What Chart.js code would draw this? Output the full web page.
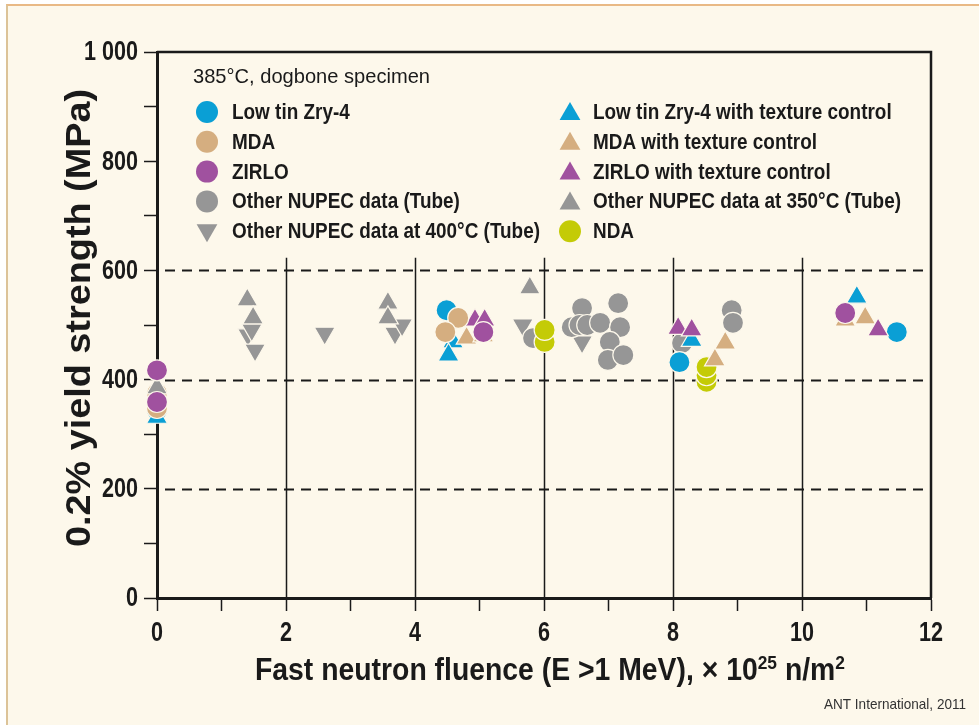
<!DOCTYPE html>
<html>
<head>
<meta charset="utf-8">
<title>Yield strength vs fast neutron fluence</title>
<script src="https://cdn.jsdelivr.net/npm/chart.js@4.4.1/dist/chart.umd.min.js"></script>
<style>
    html, body { margin: 0; padding: 0; background: #ffffff; }
    #frame {
        position: absolute; left: 6px; top: 4px; right: 0; bottom: 0;
        background: #fdf8eb;
        border-top: 2px solid #e9b985;
        border-left: 2px solid #dcc398;
    }
    #chart { position: absolute; left: 0; top: 0; }
</style>
</head>
<body>
<div id="frame"></div>
<canvas id="chart" width="979" height="725"></canvas>
<script>
/**
 * 0.2% yield strength of irradiated Zr alloys vs fast neutron fluence
 * Values (x in 10^25 n/m2, y in MPa)
 */

const xTicks = [0, 1, 2, 3, 4, 5, 6, 7, 8, 9, 10, 11, 12];
const xTickLabels = { 0: '0', 2: '2', 4: '4', 6: '6', 8: '8', 10: '10', 12: '12' };
const yTickLabels = { 0: '0', 200: '200', 400: '400', 600: '600', 800: '800', 1000: '1 000' };
const dashedLevels = [200, 400, 600];
const solidFluences = [2, 4, 6, 8, 10];

// Low tin Zry-4 (circle)
const lowTinX = [0, 4.49, 8.10, 11.47];
const lowTinY = [344, 527, 432, 487];
// MDA (circle)
const mdaX = [0, 0, 4.67, 4.47];
const mdaY = [348, 375, 513, 487];
// ZIRLO (circle)
const zirloX = [0, 0, 5.06, 10.67];
const zirloY = [359, 417, 487, 522];
// Other NUPEC data, tube (circle)
const nupecX = [5.83, 6.59, 6.43, 6.55, 6.67, 6.87, 7.15, 7.18, 7.02, 6.99, 7.23, 8.14, 8.91, 8.93];
const nupecY = [476, 531, 496, 500, 500, 504, 540, 496, 469, 436, 445, 467, 527, 504];
// Other NUPEC data at 400 C, tube (down triangle)
const nupec400X = [1.41, 1.47, 1.52, 2.60, 3.69, 3.80, 5.67, 6.59];
const nupec400Y = [482, 491, 454, 485, 485, 500, 500, 469];
// Low tin Zry-4 with texture control (triangle)
const lowTinTexX = [0, 4.59, 4.52, 8.29, 10.85];
const lowTinTexY = [331, 469, 445, 472, 551];
// MDA with texture control (triangle)
const mdaTexX = [4.80, 5.06, 8.81, 8.65, 10.67, 10.98];
const mdaTexY = [476, 480, 467, 436, 509, 513];
// ZIRLO with texture control (triangle)
const zirloTexX = [4.93, 5.08, 8.08, 8.29, 11.18];
const zirloTexY = [509, 509, 494, 491, 491];
// Other NUPEC data at 350 C, tube (triangle)
const nupec350X = [0, 1.40, 1.49, 3.58, 3.58, 5.78];
const nupec350Y = [385, 546, 513, 540, 513, 568];
// NDA (circle)
const ndaX = [6.01, 6.01, 8.52, 8.52, 8.52];
const ndaY = [469, 491, 396, 408, 423];

const colors = {
    cyan: '#0a9fd5',
    tan: '#d5ae80',
    purple: '#a0519f',
    gray: '#969696',
    nda: '#c4cb06',
    ink: '#1a1a1a',
    paper: '#fdf8eb'
};

// the original uses a condensed Helvetica; Liberation Sans is squeezed horizontally
const FONT = "'Liberation Sans', Arial, sans-serif";

function toPoints(xs, ys) {
    return xs.map(function(x, i) { return { x: x, y: ys[i] }; });
}

/**
 * Build one scatter dataset; lower `order` ends up drawn on top
 */
function makeSet(label, xs, ys, color, style, order, rotation) {
    return {
        label: label,
        data: toPoints(xs, ys),
        order: order,
        clip: false,
        pointStyle: style,
        rotation: rotation || 0,
        pointRadius: style === 'circle' ? 10.5 : 12,
        pointHoverRadius: style === 'circle' ? 10.5 : 12,
        backgroundColor: color,
        borderColor: colors.paper,
        borderWidth: 1.2
    };
}

const datasets = [
    makeSet('Low tin Zry-4', lowTinX, lowTinY, colors.cyan, 'circle', 6),
    makeSet('MDA', mdaX, mdaY, colors.tan, 'circle', 2),
    makeSet('ZIRLO', zirloX, zirloY, colors.purple, 'circle', 0),
    makeSet('Other NUPEC data (Tube)', nupecX, nupecY, colors.gray, 'circle', 8),
    makeSet('Other NUPEC data at 400°C (Tube)', nupec400X, nupec400Y, colors.gray, 'triangle', 9, 180),
    makeSet('Low tin Zry-4 with texture control', lowTinTexX, lowTinTexY, colors.cyan, 'triangle', 5),
    makeSet('MDA with texture control', mdaTexX, mdaTexY, colors.tan, 'triangle', 4),
    makeSet('ZIRLO with texture control', zirloTexX, zirloTexY, colors.purple, 'triangle', 3),
    makeSet('Other NUPEC data at 350°C (Tube)', nupec350X, nupec350Y, colors.gray, 'triangle', 1),
    makeSet('NDA', ndaX, ndaY, colors.nda, 'circle', 7)
];

/**
 * Draw text squeezed horizontally by sx
 */
function squeezedText(ctx, text, x, y, align, sx) {
    ctx.save();
    ctx.translate(x, y);
    ctx.scale(sx, 1);
    ctx.textAlign = align;
    ctx.fillText(text, 0, 0);
    ctx.restore();
}

/**
 * Draw a run of segments (some superscript) centred on x, fitted to a width
 */
function drawRun(ctx, segments, cx, cy, size, weight, targetWidth) {
    const base = weight + ' ' + size + 'px ' + FONT;
    const sup = weight + ' ' + Math.round(size * 0.62) + 'px ' + FONT;
    let total = 0;
    segments.forEach(function(s) {
        ctx.font = s.sup ? sup : base;
        s.w = ctx.measureText(s.t).width;
        total += s.w;
    });
    const sx = targetWidth / total;
    ctx.save();
    ctx.translate(cx - targetWidth / 2, cy);
    ctx.scale(sx, 1);
    ctx.textAlign = 'left';
    let pos = 0;
    segments.forEach(function(s) {
        ctx.font = s.sup ? sup : base;
        ctx.fillText(s.t, pos, s.sup ? -size * 0.36 : 0);
        pos += s.w;
    });
    ctx.restore();
}

/**
 * Grid: dashed horizontal levels, solid verticals below the legend, frame
 */
const gridPlugin = {
    id: 'gridLines',
    beforeDatasetsDraw: function(chart) {
        const ctx = chart.ctx;
        const xs = chart.scales.x;
        const ys = chart.scales.y;
        const area = chart.chartArea;
        ctx.save();
        ctx.strokeStyle = colors.ink;

        // dashed levels
        ctx.lineWidth = 2;
        ctx.setLineDash([10, 7]);
        dashedLevels.forEach(function(v) {
            const y = Math.round(ys.getPixelForValue(v)) + 0.5;
            ctx.beginPath();
            ctx.moveTo(area.left + 8, y);
            ctx.lineTo(area.right, y);
            ctx.stroke();
        });
        ctx.setLineDash([]);

        // vertical lines stop under the legend
        ctx.lineWidth = 1.5;
        solidFluences.forEach(function(v) {
            const x = Math.round(xs.getPixelForValue(v)) + 0.5;
            ctx.beginPath();
            ctx.moveTo(x, ys.getPixelForValue(623));
            ctx.lineTo(x, area.bottom);
            ctx.stroke();
        });

        // top and right frame
        ctx.lineWidth = 2.5;
        ctx.beginPath();
        ctx.moveTo(area.left, area.top);
        ctx.lineTo(area.right, area.top);
        ctx.lineTo(area.right, area.bottom);
        ctx.stroke();
        ctx.restore();
    }
};

/**
 * Tick labels and axis titles in condensed lettering
 */
const axisTextPlugin = {
    id: 'axisText',
    afterDraw: function(chart) {
        const ctx = chart.ctx;
        const xs = chart.scales.x;
        const ys = chart.scales.y;
        const area = chart.chartArea;
        ctx.save();
        ctx.fillStyle = colors.ink;
        ctx.textBaseline = 'middle';
        ctx.font = 'bold 27px ' + FONT;
        Object.keys(yTickLabels).forEach(function(v) {
            squeezedText(ctx, yTickLabels[v], 138, ys.getPixelForValue(+v) + 1, 'right', 0.8);
        });
        Object.keys(xTickLabels).forEach(function(v) {
            squeezedText(ctx, xTickLabels[v], xs.getPixelForValue(+v), 634, 'center', 0.8);
        });

        ctx.textBaseline = 'alphabetic';
        drawRun(ctx, [
            { t: 'Fast neutron fluence (E >1 MeV), × 10' },
            { t: '25', sup: true },
            { t: ' n/m' },
            { t: '2', sup: true }
        ], (area.left + area.right) / 2 + 6, 680, 31, 'bold', 590);

        ctx.save();
        ctx.translate(90, (area.top + area.bottom) / 2 - 7);
        ctx.rotate(-Math.PI / 2);
        drawRun(ctx, [{ t: '0.2% yield strength (MPa)' }], 0, 0, 35, 'bold', 458);
        ctx.restore();
        ctx.restore();
    }
};

/**
 * Two-column legend inside the plot and the source note
 */
const legendPlugin = {
    id: 'insideLegend',
    afterDraw: function(chart) {
        const ctx = chart.ctx;
        ctx.save();
        ctx.fillStyle = colors.ink;
        ctx.textBaseline = 'middle';
        ctx.font = '21px ' + FONT;
        squeezedText(ctx, '385°C, dogbone specimen', 193, 77, 'left',
            237 / ctx.measureText('385°C, dogbone specimen').width);

        ctx.font = 'bold 22px ' + FONT;
        const sx = 308 / ctx.measureText('Other NUPEC data at 400°C (Tube)').width;
        const columns = [
            { markX: 207, textX: 232, sets: [0, 1, 2, 3, 4] },
            { markX: 570, textX: 593, sets: [5, 6, 7, 8, 9] }
        ];
        columns.forEach(function(col) {
            col.sets.forEach(function(idx, row) {
                const ds = chart.data.datasets[idx];
                const y = 112 + row * 29.8;
                ctx.fillStyle = ds.backgroundColor;
                ctx.strokeStyle = ds.backgroundColor;
                Chart.helpers.drawPoint(ctx, {
                    pointStyle: ds.pointStyle,
                    rotation: ds.rotation,
                    radius: ds.pointStyle === 'circle' ? 11 : 12,
                    borderWidth: 0
                }, col.markX, y + (ds.pointStyle === 'triangle' ? (ds.rotation ? -1 : 2) : 0));
                ctx.fillStyle = colors.ink;
                squeezedText(ctx, ds.label, col.textX, y + 1, 'left', sx);
            });
        });

        ctx.font = '15px ' + FONT;
        ctx.fillStyle = '#333333';
        squeezedText(ctx, 'ANT International, 2011', 966, 705, 'right',
            142 / ctx.measureText('ANT International, 2011').width);
        ctx.restore();
    }
};

new Chart(document.getElementById('chart'), {
    type: 'scatter',
    data: { datasets: datasets },
    options: {
        responsive: false,
        animation: false,
        layout: { padding: { top: 52, right: 48, left: 0, bottom: 0 } },
        plugins: {
            legend: { display: false },
            tooltip: { enabled: false }
        },
        scales: {
            x: {
                type: 'linear',
                min: 0,
                max: 12,
                afterFit: function(scale) { scale.height = 127; },
                afterBuildTicks: function(scale) {
                    scale.ticks = xTicks.map(function(v) { return { value: v }; });
                },
                ticks: { display: false },
                grid: {
                    drawOnChartArea: false,
                    tickLength: 13,
                    tickWidth: 1.5,
                    tickColor: colors.ink
                },
                border: { display: true, color: colors.ink, width: 3 }
            },
            y: {
                min: 0,
                max: 1000,
                afterFit: function(scale) { scale.width = 157; },
                ticks: { display: false, stepSize: 100 },
                grid: {
                    drawOnChartArea: false,
                    tickLength: 13,
                    tickWidth: 1.5,
                    tickColor: colors.ink
                },
                border: { display: true, color: colors.ink, width: 3 }
            }
        }
    },
    plugins: [gridPlugin, axisTextPlugin, legendPlugin]
});
</script>
</body>
</html>
